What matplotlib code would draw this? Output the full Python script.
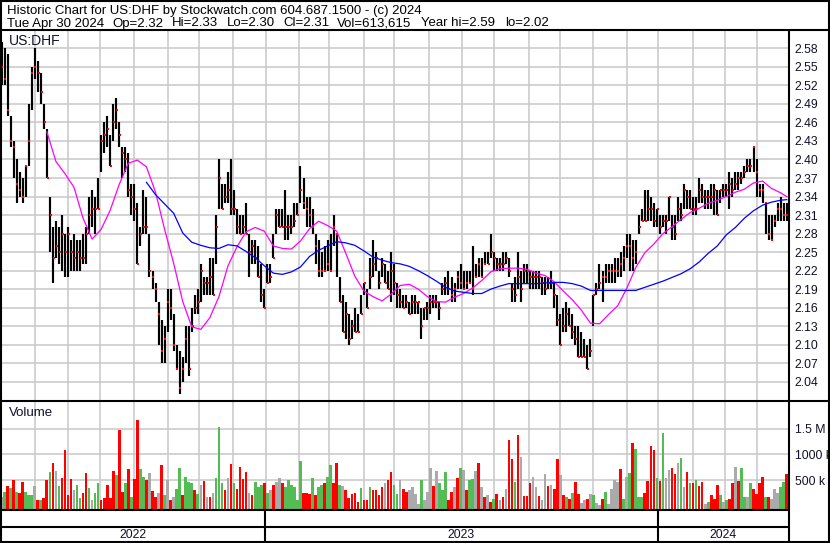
import numpy as np
import pandas as pd
import matplotlib
matplotlib.use("Agg")
import matplotlib.pyplot as plt
from matplotlib.lines import Line2D

plt.rcParams['font.family'] = ['Liberation Sans', 'DejaVu Sans']

# ---------------- data ----------------
start_date, end_date = '2022-05-02', '2024-04-30'
bar_step = 2          # one bar every 2 business days

highs = [2.59, 2.58, 2.57, 2.47, 2.43, 2.40, 2.38, 2.37, 2.39, 2.49,
         2.55, 2.58, 2.56, 2.54, 2.49, 2.45, 2.34, 2.29, 2.30, 2.29,
         2.31, 2.28, 2.29, 2.27, 2.28, 2.27, 2.27, 2.28, 2.29, 2.34,
         2.35, 2.34, 2.37, 2.44, 2.46, 2.47, 2.44, 2.49, 2.50, 2.46,
         2.42, 2.42, 2.41, 2.36, 2.36, 2.33, 2.29, 2.35, 2.34, 2.28,
         2.22, 2.20, 2.17, 2.14, 2.13, 2.19, 2.19, 2.15, 2.10, 2.09,
         2.08, 2.13, 2.13, 2.16, 2.18, 2.19, 2.23, 2.21, 2.21, 2.24,
         2.24, 2.31, 2.40, 2.36, 2.36, 2.38, 2.40, 2.35, 2.32, 2.31,
         2.31, 2.33, 2.28, 2.27, 2.27, 2.26, 2.23, 2.19, 2.23, 2.23,
         2.28, 2.32, 2.32, 2.32, 2.35, 2.31, 2.31, 2.33, 2.33, 2.39,
         2.37, 2.34, 2.34, 2.32, 2.28, 2.27, 2.25, 2.26, 2.27, 2.28,
         2.31, 2.28, 2.21, 2.18, 2.17, 2.15, 2.14, 2.16, 2.15, 2.18,
         2.20, 2.19, 2.24, 2.27, 2.25, 2.22, 2.24, 2.23, 2.22, 2.25,
         2.23, 2.20, 2.19, 2.18, 2.18, 2.17, 2.18, 2.18, 2.17, 2.16,
         2.16, 2.17, 2.18, 2.18, 2.18, 2.17, 2.20, 2.21, 2.22, 2.21,
         2.20, 2.22, 2.23, 2.22, 2.22, 2.22, 2.26, 2.23, 2.24, 2.24,
         2.25, 2.25, 2.28, 2.25, 2.24, 2.24, 2.25, 2.25, 2.24, 2.20,
         2.21, 2.25, 2.22, 2.23, 2.23, 2.22, 2.22, 2.22, 2.22, 2.21,
         2.21, 2.21, 2.22, 2.20, 2.18, 2.15, 2.16, 2.17, 2.16, 2.15,
         2.13, 2.13, 2.12, 2.11, 2.10, 2.11, 2.18, 2.20, 2.23, 2.22,
         2.23, 2.23, 2.23, 2.24, 2.24, 2.25, 2.26, 2.28, 2.28, 2.27,
         2.27, 2.31, 2.32, 2.35, 2.35, 2.34, 2.33, 2.32, 2.31, 2.31,
         2.31, 2.34, 2.31, 2.31, 2.34, 2.33, 2.36, 2.35, 2.35, 2.34,
         2.34, 2.37, 2.36, 2.35, 2.35, 2.36, 2.36, 2.35, 2.35, 2.36,
         2.36, 2.38, 2.37, 2.38, 2.38, 2.38, 2.39, 2.40, 2.40, 2.42,
         2.40, 2.36, 2.36, 2.33, 2.31, 2.31, 2.31, 2.33, 2.34, 2.33,
         2.33]
lows = [2.52, 2.52, 2.47, 2.42, 2.37, 2.33, 2.34, 2.33, 2.34, 2.39,
        2.48, 2.53, 2.51, 2.49, 2.45, 2.37, 2.25, 2.20, 2.24, 2.23,
        2.22, 2.21, 2.21, 2.22, 2.22, 2.22, 2.22, 2.23, 2.23, 2.28,
        2.29, 2.28, 2.32, 2.38, 2.41, 2.42, 2.39, 2.43, 2.45, 2.42,
        2.37, 2.38, 2.34, 2.31, 2.30, 2.23, 2.26, 2.28, 2.28, 2.21,
        2.19, 2.17, 2.10, 2.07, 2.07, 2.12, 2.14, 2.09, 2.06, 2.02,
        2.04, 2.07, 2.05, 2.12, 2.15, 2.15, 2.17, 2.18, 2.18, 2.18,
        2.18, 2.23, 2.32, 2.32, 2.33, 2.33, 2.31, 2.31, 2.28, 2.28,
        2.28, 2.28, 2.21, 2.23, 2.23, 2.21, 2.17, 2.16, 2.20, 2.20,
        2.24, 2.28, 2.29, 2.29, 2.27, 2.27, 2.28, 2.29, 2.31, 2.33,
        2.32, 2.29, 2.29, 2.28, 2.23, 2.21, 2.21, 2.22, 2.22, 2.22,
        2.26, 2.21, 2.17, 2.12, 2.11, 2.10, 2.11, 2.12, 2.12, 2.15,
        2.18, 2.16, 2.19, 2.21, 2.22, 2.19, 2.21, 2.20, 2.19, 2.17,
        2.18, 2.16, 2.16, 2.16, 2.16, 2.15, 2.15, 2.15, 2.15, 2.11,
        2.14, 2.14, 2.15, 2.16, 2.16, 2.14, 2.18, 2.18, 2.18, 2.17,
        2.17, 2.19, 2.19, 2.19, 2.19, 2.20, 2.18, 2.21, 2.21, 2.21,
        2.23, 2.23, 2.24, 2.22, 2.22, 2.22, 2.22, 2.23, 2.21, 2.17,
        2.17, 2.19, 2.17, 2.20, 2.20, 2.19, 2.19, 2.19, 2.19, 2.18,
        2.18, 2.19, 2.19, 2.16, 2.13, 2.10, 2.12, 2.12, 2.13, 2.11,
        2.10, 2.08, 2.08, 2.08, 2.06, 2.08, 2.13, 2.18, 2.19, 2.17,
        2.20, 2.20, 2.20, 2.20, 2.21, 2.21, 2.22, 2.24, 2.22, 2.22,
        2.23, 2.28, 2.30, 2.30, 2.30, 2.30, 2.29, 2.29, 2.28, 2.29,
        2.28, 2.30, 2.27, 2.27, 2.30, 2.30, 2.32, 2.32, 2.32, 2.31,
        2.31, 2.33, 2.33, 2.32, 2.32, 2.32, 2.31, 2.31, 2.33, 2.34,
        2.34, 2.32, 2.34, 2.35, 2.35, 2.36, 2.37, 2.38, 2.38, 2.38,
        2.34, 2.34, 2.33, 2.28, 2.27, 2.27, 2.29, 2.30, 2.30, 2.30,
        2.30]
closes = [2.55, 2.53, 2.48, 2.43, 2.42, 2.36, 2.35, 2.34, 2.39, 2.43,
          2.54, 2.55, 2.54, 2.51, 2.46, 2.37, 2.31, 2.24, 2.26, 2.25,
          2.28, 2.25, 2.28, 2.25, 2.24, 2.25, 2.24, 2.24, 2.28, 2.31,
          2.32, 2.32, 2.32, 2.43, 2.44, 2.45, 2.39, 2.46, 2.48, 2.44,
          2.41, 2.40, 2.35, 2.34, 2.32, 2.23, 2.28, 2.29, 2.29, 2.22,
          2.21, 2.19, 2.15, 2.09, 2.11, 2.17, 2.16, 2.10, 2.06, 2.03,
          2.06, 2.11, 2.06, 2.13, 2.16, 2.17, 2.22, 2.20, 2.20, 2.21,
          2.18, 2.29, 2.37, 2.32, 2.34, 2.35, 2.32, 2.32, 2.29, 2.28,
          2.29, 2.28, 2.25, 2.26, 2.24, 2.21, 2.18, 2.16, 2.20, 2.21,
          2.24, 2.31, 2.29, 2.29, 2.29, 2.29, 2.29, 2.30, 2.31, 2.35,
          2.33, 2.32, 2.31, 2.29, 2.26, 2.22, 2.22, 2.22, 2.23, 2.22,
          2.29, 2.28, 2.17, 2.12, 2.15, 2.11, 2.13, 2.12, 2.12, 2.15,
          2.20, 2.16, 2.21, 2.23, 2.24, 2.20, 2.23, 2.20, 2.19, 2.22,
          2.20, 2.18, 2.17, 2.16, 2.17, 2.15, 2.17, 2.17, 2.17, 2.13,
          2.16, 2.16, 2.17, 2.17, 2.17, 2.16, 2.19, 2.20, 2.19, 2.18,
          2.19, 2.21, 2.20, 2.19, 2.20, 2.20, 2.19, 2.21, 2.23, 2.21,
          2.23, 2.23, 2.25, 2.24, 2.23, 2.23, 2.23, 2.24, 2.22, 2.19,
          2.18, 2.21, 2.19, 2.22, 2.22, 2.21, 2.21, 2.21, 2.21, 2.20,
          2.19, 2.20, 2.20, 2.18, 2.14, 2.10, 2.13, 2.15, 2.13, 2.12,
          2.11, 2.08, 2.08, 2.08, 2.06, 2.09, 2.18, 2.19, 2.20, 2.21,
          2.21, 2.22, 2.22, 2.22, 2.22, 2.23, 2.24, 2.26, 2.26, 2.24,
          2.25, 2.29, 2.30, 2.30, 2.32, 2.32, 2.30, 2.32, 2.29, 2.30,
          2.30, 2.34, 2.29, 2.28, 2.32, 2.31, 2.35, 2.34, 2.32, 2.32,
          2.32, 2.35, 2.34, 2.34, 2.34, 2.34, 2.35, 2.31, 2.35, 2.35,
          2.35, 2.36, 2.35, 2.36, 2.37, 2.37, 2.38, 2.39, 2.39, 2.42,
          2.38, 2.35, 2.35, 2.33, 2.28, 2.27, 2.30, 2.32, 2.32, 2.31,
          2.31]
# volume in thousands of shares, and bar colour code (r=down, g=up, n=unchanged)
volumes_k = [175, 273, 383, 338, 500, 273, 240, 467, 266, 208,
             208, 383, 110, 110, 143, 500, 662, 837, 675, 383,
             532, 1084, 208, 513, 305, 402, 143, 240, 643, 338,
             110, 253, 448, 110, 143, 402, 143, 675, 597, 1473,
             273, 448, 714, 175, 519, 1668, 714, 552, 500, 630,
             292, 175, 240, 792, 208, 500, 110, 175, 318, 727,
             208, 552, 467, 448, 305, 227, 402, 480, 175, 175,
             240, 532, 1538, 435, 305, 532, 811, 435, 318, 760,
             513, 662, 253, 208, 467, 357, 402, 435, 240, 305,
             402, 467, 532, 448, 370, 500, 402, 357, 110, 870,
             240, 240, 227, 532, 208, 370, 402, 435, 552, 792,
             435, 825, 402, 383, 305, 143, 227, 253, 78, 338,
             110, 110, 357, 305, 305, 208, 370, 435, 500, 662,
             402, 227, 500, 318, 266, 305, 357, 227, 32, 500,
             110, 266, 727, 383, 675, 435, 305, 656, 110, 266,
             357, 539, 727, 695, 305, 500, 513, 675, 825, 357,
             162, 208, 71, 123, 227, 110, 162, 325, 1279, 902,
             467, 1376, 941, 188, 188, 435, 552, 357, 188, 110,
             617, 383, 402, 318, 915, 597, 208, 162, 130, 240,
             461, 227, 58, 110, 123, 221, 201, 58, 20, 123,
             266, 32, 318, 500, 461, 707, 123, 552, 630, 1214,
             1097, 162, 162, 240, 474, 1162, 1084, 539, 480, 1408,
             545, 695, 727, 617, 837, 922, 357, 662, 435, 435,
             500, 383, 461, 32, 78, 208, 130, 402, 208, 78,
             110, 136, 435, 760, 487, 734, 175, 162, 435, 325,
             221, 435, 552, 162, 162, 130, 325, 240, 370, 467,
             614]
volume_dir = ("ngrgrgrrgg" "gnrgrrgrng" "rrrrnggrrg" "nggrrrrrgr" "rgrgrrggrn"
              "rrnrgnrngg" "rgggrgnrnr" "ngggrnrgrr" "rrnrgggrgn" "rnnrgggggg"
              "rrrgrggrgg" "rrgnrrrrrg" "rrgrrrrnrr" "ggnrrnnnng" "nnnrngggrr"
              "nrgnrggnrn" "rnrgrnrnrr" "grnrrrnnrn" "nrnrrnrgrg" "rrnnrngnnr"
              "gnnnnrgngr" "gggrrrrgrg" "nnrrngnrgr" "grrngrrrgn" "grrnrggngr"
              "rrrgrnnngg" "r")
# moving averages, one value every 3 bars (+ the last bar)
ma_short_first_bar = 15
ma_short = [2.445, 2.397, 2.377, 2.355, 2.305, 2.271, 2.287, 2.318, 2.360, 2.394,
            2.399, 2.388, 2.347, 2.287, 2.232, 2.170, 2.129, 2.125, 2.144, 2.178,
            2.228, 2.259, 2.283, 2.290, 2.284, 2.260, 2.256, 2.255, 2.268, 2.288,
            2.300, 2.293, 2.284, 2.248, 2.211, 2.187, 2.178, 2.171, 2.182, 2.196,
            2.198, 2.190, 2.178, 2.170, 2.169, 2.177, 2.183, 2.192, 2.204, 2.218,
            2.223, 2.224, 2.224, 2.222, 2.216, 2.212, 2.202, 2.187, 2.173, 2.156,
            2.135, 2.134, 2.149, 2.163, 2.191, 2.225, 2.249, 2.263, 2.280, 2.291,
            2.303, 2.314, 2.321, 2.329, 2.334, 2.340, 2.347, 2.352, 2.362, 2.365,
            2.353, 2.346, 2.340]
ma_long_first_bar = 48
ma_long = [2.363, 2.343, 2.328, 2.313, 2.281, 2.266, 2.261, 2.257, 2.256, 2.262,
           2.260, 2.251, 2.241, 2.228, 2.216, 2.214, 2.218, 2.226, 2.243, 2.253,
           2.260, 2.267, 2.265, 2.261, 2.252, 2.242, 2.237, 2.233, 2.231, 2.227,
           2.220, 2.212, 2.203, 2.193, 2.187, 2.185, 2.183, 2.183, 2.190, 2.195,
           2.199, 2.199, 2.199, 2.199, 2.200, 2.201, 2.201, 2.199, 2.195, 2.188,
           2.188, 2.188, 2.188, 2.188, 2.188, 2.193, 2.198, 2.203, 2.209, 2.215,
           2.223, 2.234, 2.248, 2.260, 2.278, 2.290, 2.305, 2.317, 2.326, 2.331,
           2.334, 2.335]
ma_every = 3

price_ticks = [2.04, 2.07, 2.10, 2.13, 2.16, 2.19, 2.22, 2.25, 2.28, 2.31,
               2.34, 2.37, 2.40, 2.43, 2.46, 2.49, 2.52, 2.55, 2.58]
vol_ticks = [500000, 1000000, 1500000]
vol_tick_labels = ['500 k', '1000 k', '1.5 M']

title1 = "Historic Chart for US:DHF by Stockwatch.com 604.687.1500 - (c) 2024"
title2_fields = ["Tue Apr 30 2024", "Op=2.32", "Hi=2.33", "Lo=2.30", "Cl=2.31",
                 "Vol=613,615", "Year hi=2.59", "lo=2.02"]
symbol = "US:DHF"

# ---------------- layout ----------------
W, H, DPI = 830, 543, 100
fig = plt.figure(figsize=(W / DPI, H / DPI), dpi=DPI)
fig.patch.set_facecolor('white')


def fx(px):
    return px / W


def fy(py):
    return 1 - py / H


PLOT_R = 789
ax = fig.add_axes([0, fy(400), fx(PLOT_R), (400 - 31) / H])
vax = fig.add_axes([0, fy(509), fx(PLOT_R), (509 - 402) / H])
dax = fig.add_axes([0, fy(542), fx(PLOT_R), (542 - 510) / H])

days = pd.bdate_range(start_date, end_date)
day_idx = np.arange(len(days))
bar_x = day_idx[::bar_step][:len(closes)]
xlim = (-1, len(days) - 0.5)

month_starts = [i for i in range(1, len(days)) if days[i].month != days[i - 1].month]
year_starts = [i for i in range(1, len(days)) if days[i].year != days[i - 1].year]

grid_c = '#c8c8c8'
grid_lw = 1.1
label_c = '#10102a'

for a in (ax, vax, dax):
    a.set_xlim(*xlim)
    for s in a.spines.values():
        s.set_visible(False)

# price panel
ax.set_ylim(2.0106, 2.608)
ax.set_xticks(month_starts)
ax.set_xticklabels([])
ax.set_yticks(price_ticks)
ax.set_yticklabels([f"{t:.2f}" for t in price_ticks])
ax.yaxis.tick_right()
ax.tick_params(axis='both', length=0)
ax.tick_params(axis='y', pad=4, labelsize=8.8, labelcolor=label_c)
ax.grid(True, color=grid_c, lw=grid_lw)
ax.set_axisbelow(True)

ax.vlines(bar_x, lows, highs, color='black', lw=1.55, zorder=3)
ax.plot(bar_x + 0.5, closes, linestyle='none', marker='s', ms=1.6, mew=0,
        color='#ff0000', zorder=4)


def ma_positions(first, n):
    pos = list(range(first, first + ma_every * (n - 1), ma_every)) + [len(closes) - 1]
    return bar_x[np.array(pos[:n])]


ax.plot(ma_positions(ma_short_first_bar, len(ma_short)), ma_short,
        color='#ff00ff', lw=0.9, zorder=5)
ax.plot(ma_positions(ma_long_first_bar, len(ma_long)), ma_long,
        color='#0000ff', lw=0.9, zorder=5)

fig.text(fx(9), fy(41), symbol, fontsize=10, va='center', ha='left', color=label_c)

# volume panel
VB = -64000
vax.set_ylim(VB, 2018000)
vax.set_xticks(month_starts)
vax.set_xticklabels([])
vax.set_yticks(vol_ticks)
vax.set_yticklabels(vol_tick_labels)
vax.yaxis.tick_right()
vax.tick_params(axis='both', length=0)
vax.tick_params(axis='y', pad=4, labelsize=8.8, labelcolor=label_c)
vax.grid(True, color=grid_c, lw=grid_lw)
vax.set_axisbelow(True)
cmap = {'r': '#ff0000', 'g': '#55bb55', 'n': '#aaaaaa'}
vcol = [cmap[c] for c in volume_dir[:len(volumes_k)]]
vols = np.array(volumes_k) * 1000.0
vax.bar(bar_x, vols - VB, bottom=VB, width=1.75, color=vcol, linewidth=0, zorder=3)
fig.text(fx(9), fy(413), "Volume", fontsize=9.5, va='center', ha='left', color=label_c)

# date strip
dax.set_ylim(0, 1)
dax.set_xticks([])
dax.set_yticks([])
dax.axhline((542 - 527) / 32, color='black', lw=1.5)
for ys in year_starts:
    dax.axvline(ys - 0.5, color='black', lw=1.5)
bounds = [xlim[0]] + [ys - 0.5 for ys in year_starts] + [xlim[1]]
years = [days[0].year] + [days[ys].year for ys in year_starts]
for i, yr in enumerate(years):
    dax.text((bounds[i] + bounds[i + 1]) / 2, (542 - 535) / 32, str(yr),
             ha='center', va='center', fontsize=8.8, color=label_c)

# title lines
TFS = 9.5
fig.text(fx(7), fy(11), title1, fontsize=TFS, va='center', ha='left', color='black')
field_x = [7, 112, 172, 227, 283, 337, 421]
renderer = fig.canvas.get_renderer()
prev_end = None
for i, txt in enumerate(title2_fields):
    if i < len(field_x):
        x0 = field_x[i]
    else:
        x0 = prev_end + 10
    t = fig.text(fx(x0), fy(23.5), txt, fontsize=TFS, va='center', ha='left',
                 color='black')
    bb = t.get_window_extent(renderer=renderer)
    prev_end = bb.x1


# frame lines
def line(x0, y0, x1, y1, lw=1.5):
    fig.add_artist(Line2D([fx(x0), fx(x1)], [fy(y0), fy(y1)],
                          transform=fig.transFigure, color='black', lw=lw,
                          solid_capstyle='butt'))


line(0.7, 0, 0.7, 543)
line(829.3, 0, 829.3, 543)
line(0, 0.7, 830, 0.7)
line(0, 542.3, 830, 542.3)
line(0, 30.3, 830, 30.3)
line(0, 401, 830, 401)
line(0, 510, PLOT_R, 510)
line(PLOT_R, 30.3, PLOT_R, 543)

fig.savefig("out.png", dpi=DPI)
